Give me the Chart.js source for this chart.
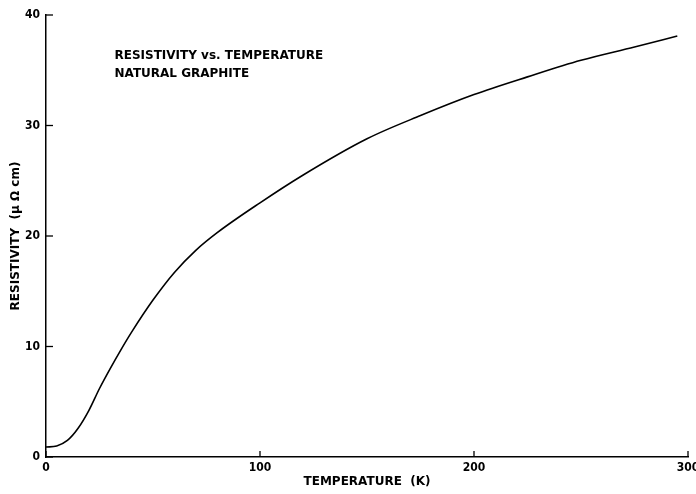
<!DOCTYPE html>
<html>
<head>
<meta charset="utf-8">
<script src="https://cdn.jsdelivr.net/npm/chart.js@4"></script>
<style>
html,body{margin:0;padding:0;background:#fff;}
#wrap{width:696px;height:494px;position:relative;}
</style>
</head>
<body>
<div id="wrap"><canvas id="c" width="696" height="494"></canvas></div>
<script>
const temperatures = [0, 5, 10, 15, 20, 25, 30, 35, 40, 50, 60, 70, 80, 100, 120, 150, 175, 200, 225, 250, 275, 295];
const resistivity = [0.9, 1.0, 1.5, 2.6, 4.2, 6.2, 8.0, 9.7, 11.3, 14.2, 16.7, 18.7, 20.3, 23.0, 25.5, 28.8, 30.9, 32.8, 34.4, 35.9, 37.1, 38.1];
const xTicks = [0, 100, 200, 300];
const yTicks = [0, 10, 20, 30, 40];
const annotationLines = ["RESISTIVITY vs. TEMPERATURE", "NATURAL GRAPHITE"];
const xTitle = "TEMPERATURE  (K)";
const yTitle = "RESISTIVITY  (μ Ω cm)";

const FONT = "'DejaVu Sans', sans-serif";
const TICKFONT = "'DejaVu Sans Condensed', 'DejaVu Sans', sans-serif";

const innerTicks = {
  id: 'innerTicks',
  afterDraw(chart) {
    const ctx = chart.ctx, xs = chart.scales.x, ys = chart.scales.y;
    ctx.save();
    ctx.strokeStyle = '#000';
    ctx.lineWidth = 1.3;
    xTicks.forEach(v => {
      const px = xs.getPixelForValue(v);
      ctx.beginPath(); ctx.moveTo(px, ys.bottom); ctx.lineTo(px, ys.bottom - 6); ctx.stroke();
    });
    yTicks.forEach(v => {
      const py = ys.getPixelForValue(v);
      ctx.beginPath(); ctx.moveTo(xs.left, py); ctx.lineTo(xs.left + 7, py); ctx.stroke();
    });
    ctx.fillStyle = '#000';
    ctx.font = "bold 12px " + FONT;
    ctx.textBaseline = 'middle';
    ctx.textAlign = 'left';
    const ax = xs.getPixelForValue(32);
    ctx.fillText(annotationLines[0], ax, ys.getPixelForValue(36.3));
    ctx.fillText(annotationLines[1], ax, ys.getPixelForValue(34.7));
    ctx.restore();
  }
};

new Chart(document.getElementById('c'), {
  type: 'line',
  data: {
    datasets: [{
      data: temperatures.map((t, i) => ({x: t, y: resistivity[i]})),
      borderColor: '#000',
      borderWidth: 1.6,
      pointRadius: 0,
      fill: false,
      cubicInterpolationMode: 'monotone'
    }]
  },
  options: {
    responsive: false,
    animation: false,
    devicePixelRatio: 1,
    layout: {padding: {top: 15, right: 8, left: 0, bottom: 0}},
    plugins: {legend: {display: false}, tooltip: {enabled: false}},
    scales: {
      x: {
        type: 'linear', min: 0, max: 300,
        afterBuildTicks(s) { s.ticks = xTicks.map(v => ({value: v})); },
        afterFit(s) { s.height = 37; s.paddingRight = 0; s.paddingLeft = 0; },
        grid: {display: false, drawTicks: false},
        border: {display: true, color: '#000', width: 1.5},
        ticks: {color: '#000', font: {family: TICKFONT, size: 12, weight: 'bold'}, padding: 4, maxRotation: 0},
        title: {display: true, text: xTitle, color: '#000', font: {family: FONT, size: 12, weight: 'bold'}, padding: {top: 0, bottom: 5}}
      },
      y: {
        type: 'linear', min: 0, max: 40,
        afterBuildTicks(s) { s.ticks = yTicks.map(v => ({value: v})); },
        afterFit(s) { s.width = 46; s.paddingTop = 0; s.paddingBottom = 0; },
        grid: {display: false, drawTicks: false},
        border: {display: true, color: '#000', width: 1.5},
        ticks: {color: '#000', font: {family: TICKFONT, size: 12, weight: 'bold'}, padding: 6},
        title: {display: true, text: yTitle, color: '#000', font: {family: FONT, size: 12, weight: 'bold'}, padding: {top: 9, bottom: 0}}
      }
    }
  },
  plugins: [innerTicks]
});
</script>
</body>
</html>
